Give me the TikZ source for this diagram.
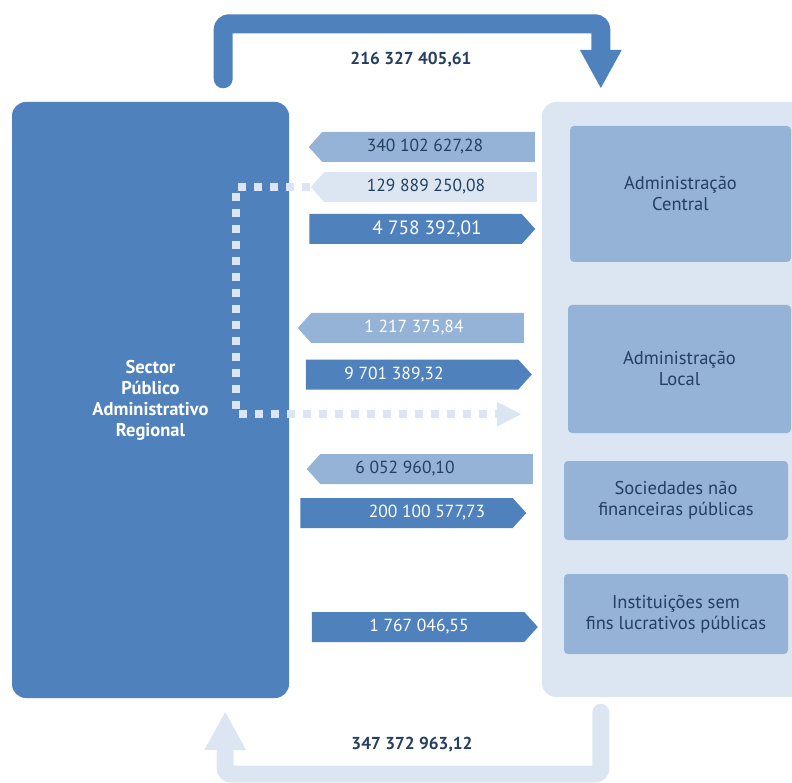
\documentclass[tikz,border=0pt]{standalone}
\usepackage{fontspec}
\setmainfont{PT Sans}
\usetikzlibrary{shapes.symbols, arrows.meta}
\definecolor{spablue}{HTML}{4F81BD}
\definecolor{midblue}{HTML}{95B3D7}
\definecolor{paleblue}{HTML}{DCE6F2}
\definecolor{navytext}{HTML}{243F60}

\begin{document}
\begin{tikzpicture}[x=1pt, y=-1pt,
  spa/.style={rectangle, rounded corners=14pt, fill=spablue, minimum width=277pt, minimum height=596pt, text=white, font=\fontsize{18.5}{21}\selectfont\bfseries, align=center},
  group/.style={rectangle, rounded corners=14pt, fill=paleblue, minimum width=290pt, minimum height=595pt},
  sector/.style={rectangle, rounded corners=4pt, fill=midblue, text=navytext, font=\fontsize{18.5}{21}\selectfont, align=center, minimum width=223pt},
  flag/.style={signal, inner sep=0pt, minimum width=226pt, minimum height=30pt, signal pointer angle=96},
  flagrecv/.style={flag, signal to=west},
  flagpaid/.style={flag, signal to=east, fill=spablue},
  amtnavy/.style={text=navytext, font=\fontsize{17.5}{20}\selectfont},
  amtwhite/.style={text=white, font=\fontsize{17.5}{20}\selectfont},
  total/.style={text=navytext, font=\fontsize{17.3}{20}\selectfont\bfseries},
  loopdark/.style={draw=spablue, line width=19pt, line cap=round, rounded corners=6pt, -{Triangle[width=39pt,length=39pt]}},
  looplight/.style={draw=paleblue, line width=17pt, line cap=round, rounded corners=6pt, -{Triangle[width=39pt,length=39pt]}},
  dotlink/.style={draw=paleblue, line width=8pt, dash pattern=on 8pt off 8pt, -{Triangle[width=23pt,length=25pt]}},
]
\useasboundingbox (0,0) rectangle (792,783);
\clip (0,0) rectangle (792,783);

% Boxes
\node[spa] (spa) at (150.5,400) {Sector\\Público\\Administrativo\\Regional};
\node[group] (grp) at (687,399.5) {};
\node[sector, minimum height=136pt, minimum width=221pt] (acentral) at (680.5,194) {Administração\\Central};
\node[sector, minimum height=128pt] (alocal) at (679.5,369) {Administração\\Local};
\node[sector, minimum height=79pt, minimum width=224pt] (snfp) at (676,500.5) {Sociedades não\\financeiras públicas};
\node[sector, minimum height=80pt, minimum width=224pt] (isflp) at (676,614) {Instituições sem\\fins lucrativos públicas};

% Flows
\node[flagrecv, fill=midblue, label={[amtnavy, xshift=-3.5pt]center:340 102 627,28}] (r1) at (428.5,147) {};
\node[flagrecv, fill=paleblue, label={[amtnavy, xshift=-4.5pt]center:129 889 250,08}] (r2) at (430.5,187) {};
\node[flagpaid, label={[amtwhite, xshift=11.5pt, font=\fontsize{19.3}{22}\selectfont]center:4 758 392,01}] (p1) at (415.5,229) {};
\node[flagrecv, fill=midblue, label={[amtwhite, xshift=-3.5pt]center:1 217 375,84}] (r3) at (417.5,328) {};
\node[flagpaid, label={[amtwhite, xshift=-18pt]center:9 701 389,32}] (p2) at (412,374.5) {};
\node[flagrecv, fill=midblue, label={[amtnavy, xshift=-21.5pt]center:6 052 960,10}] (r4) at (426.5,469) {};
\node[flagpaid, label={[amtwhite, xshift=20.5pt]center:200 100 577,73}] (p3) at (406.5,513) {};
\node[flagpaid, label={[amtwhite, xshift=1pt]center:1 767 046,55}] (p4) at (418,627) {};

\draw[dotlink] (r2.west) -- ++(-74,0) |- ([xshift=-46pt,yshift=19pt]alocal.south west);

% Totals
\node[total] (ttop) at (411,60) {216 327 405,61};
\node[total] (tbot) at (412,745) {347 372 963,12};

\draw[loopdark] ([xshift=-66pt,yshift=23pt]spa.north east) -- ++(0,-55) -| ([xshift=59pt,yshift=13pt]grp.north west);
\draw[looplight] ([xshift=59pt,yshift=-15pt]grp.south west) -- ++(0,62) -| ([xshift=-64pt,yshift=-13pt]spa.south east);

\end{tikzpicture}
\end{document}
